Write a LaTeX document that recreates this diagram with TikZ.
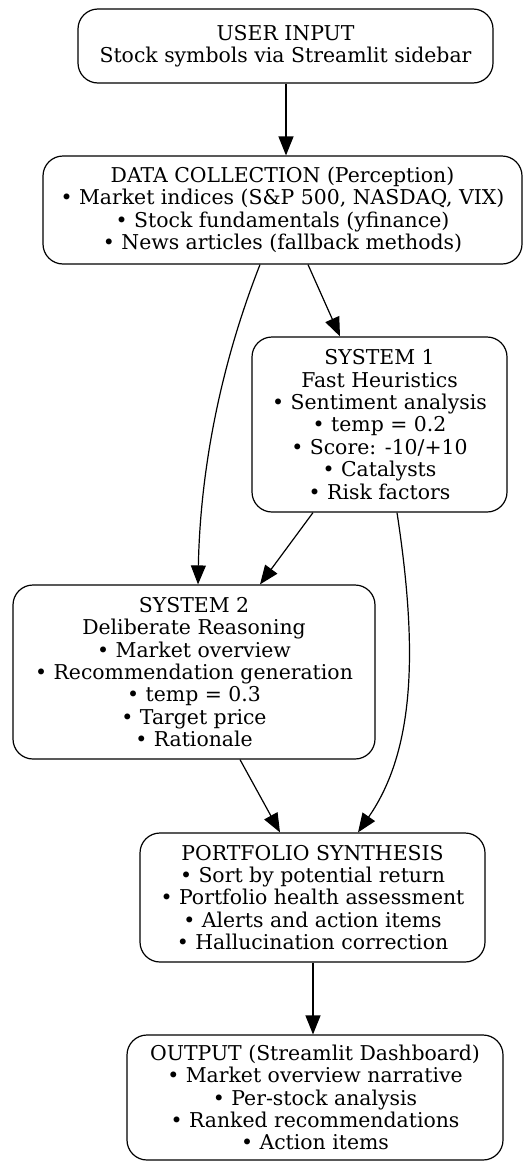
\documentclass[tikz,border=0pt]{standalone}
\usepackage{fontspec}
\setmainfont{DejaVu Serif}
\usetikzlibrary{arrows.meta}

\begin{document}
\begin{tikzpicture}[x=1pt, y=-1pt,
    box/.style={draw, rounded corners=20pt, align=center, inner sep=0pt,
        line width=1.2pt, font=\fontsize{20.4}{22.4}\selectfont},
    flow/.style={-{Triangle[length=19pt,width=15pt]}, line width=1.2pt}]
    \useasboundingbox (0,0) rectangle (527,1162);

    % Boxes
    \node[box, minimum width=415pt, minimum height=74pt] (input) at (285.5,46)
        {USER INPUT\\Stock symbols via Streamlit sidebar};
    \node[box, minimum width=479pt, minimum height=108pt] (collect) at (282.5,210)
        {DATA COLLECTION (Perception)\\• Market indices (S\&P 500, NASDAQ, VIX)\\• Stock fundamentals (yfinance)\\• News articles (fallback methods)};
    \node[box, minimum width=255pt, minimum height=175pt] (sysone) at (379.5,424.5)
        {SYSTEM 1\\Fast Heuristics\\• Sentiment analysis\\• temp = 0.2\\• Score: -10/+10\\• Catalysts\\• Risk factors};
    \node[box, minimum width=362pt, minimum height=174pt] (systwo) at (194,672)
        {SYSTEM 2\\Deliberate Reasoning\\• Market overview\\• Recommendation generation\\• temp = 0.3\\• Target price\\• Rationale};
    \node[box, minimum width=345pt, minimum height=129pt] (synth) at (312.5,897.5)
        {PORTFOLIO SYNTHESIS\\• Sort by potential return\\• Portfolio health assessment\\• Alerts and action items\\• Hallucination correction};
    \node[box, minimum width=376pt, minimum height=125pt] (output) at (315,1097.5)
        {OUTPUT (Streamlit Dashboard)\\• Market overview narrative\\• Per-stock analysis\\• Ranked recommendations\\• Action items};

    % Arrows
    \draw[flow] (input.south -| 286,0) -- (collect.north -| 286,0);
    \draw[flow] (collect.south -| 308,0) -- (sysone.north -| 340,0);
    \draw[flow] (collect.south -| 260,0) .. controls (217,374) and (200,480) .. (systwo.north -| 198,0);
    \draw[flow] (sysone.south -| 313,0) -- (systwo.north -| 260,0);
    \draw[flow] (sysone.south -| 397,0) .. controls (418,650) and (415,750) .. (synth.north -| 358,0);
    \draw[flow] (systwo.south -| 240,0) -- (synth.north -| 280,0);
    \draw[flow] (synth.south -| 313,0) -- (output.north -| 313,0);
\end{tikzpicture}
\end{document}
